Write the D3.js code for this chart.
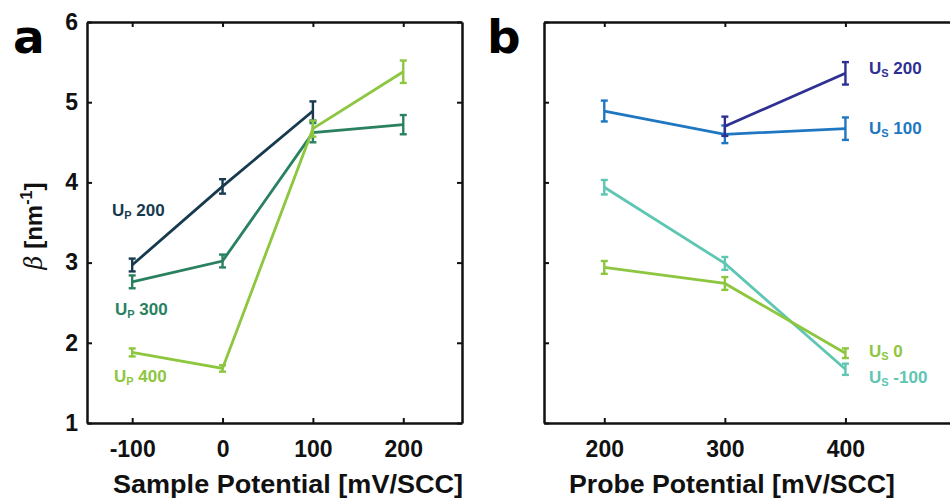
<!DOCTYPE html>
<html>
<head>
<meta charset="utf-8">
<script src="https://cdn.jsdelivr.net/npm/d3@7"></script>
<style>
  body { margin: 0; background: #fff; }
  svg { font-family: "Liberation Sans", Arial, sans-serif; font-weight: bold; }
</style>
</head>
<body>
<div id="chart"></div>
<script>
// panel a: beta vs sample potential, one line per probe potential
const sampleX = [-100, 0, 100, 200];
const up200 = [2.97, 3.95, 4.89];
const up200Err = [0.08, 0.09, 0.12];
const up300 = [2.76, 3.02, 4.62, 4.72];
const up300Err = [0.08, 0.08, 0.12, 0.12];
const up400 = [1.88, 1.68, 4.67, 5.38];
const up400Err = [0.05, 0.04, 0.1, 0.14];

// panel b: beta vs probe potential, one line per sample potential
const probeX = [200, 300, 400];
const us200X = [300, 400];
const us200 = [4.70, 5.36];
const us200Err = [0.12, 0.14];
const us100 = [4.89, 4.60, 4.67];
const us100Err = [0.13, 0.11, 0.14];
const usm100 = [3.94, 2.99, 1.67];
const usm100Err = [0.09, 0.08, 0.07];
const us0 = [2.94, 2.74, 1.87];
const us0Err = [0.08, 0.08, 0.06];

const yTicks = [1, 2, 3, 4, 5, 6];

const W = 950, H = 500;
const svg = d3.select("#chart").append("svg")
    .attr("width", W).attr("height", H);

const y = d3.scaleLinear().domain([1, 6]).range([423, 22]);
const xa = d3.scaleLinear().domain([-150, 265]).range([87, 462]);
const xb = d3.scaleLinear().domain([150, 500]).range([544, 966]);

function mk(xs, ys, es) {
  return xs.map((v, i) => ({ x: v, y: ys[i], e: es[i] }));
}

function frame(g, x, ticks, showY, showRight) {
  const [x0, x1] = x.range();
  const bottom = d3.axisBottom(x).tickValues(ticks)
      .tickSizeInner(-5).tickSizeOuter(0).tickPadding(18).tickFormat(String);
  g.append("g").attr("transform", "translate(0,423)").call(bottom);
  const top = d3.axisTop(x).tickValues(ticks)
      .tickSizeInner(-5).tickSizeOuter(0).tickFormat("");
  g.append("g").attr("transform", "translate(0,22)").call(top);
  const left = d3.axisLeft(y).tickValues(yTicks)
      .tickSizeInner(-5).tickSizeOuter(0).tickPadding(9)
      .tickFormat(showY ? String : "");
  g.append("g").attr("transform", "translate(" + x0 + ",0)").call(left);
  if (showRight) {
    const right = d3.axisRight(y).tickValues(yTicks)
        .tickSizeInner(-5).tickSizeOuter(0).tickFormat("");
    g.append("g").attr("transform", "translate(" + x1 + ",0)").call(right);
  }
  g.selectAll(".domain").attr("stroke", "#111").attr("stroke-width", 2.5);
  g.selectAll(".tick line").attr("stroke", "#111").attr("stroke-width", 2);
  g.selectAll(".tick text").attr("font-size", 23).attr("font-weight", "bold")
      .attr("font-family", "Liberation Sans, Arial, sans-serif").attr("fill", "#111");
}

function series(g, x, pts, color) {
  const line = d3.line().x(d => x(d.x)).y(d => y(d.y));
  g.append("path").datum(pts)
      .attr("fill", "none").attr("stroke", color)
      .attr("stroke-width", 2.8).attr("d", line);
  const eb = g.append("g").attr("stroke", color).attr("stroke-width", 2.4);
  pts.forEach(d => {
    const cx = x(d.x), t = y(d.y + d.e), b = y(d.y - d.e);
    eb.append("line").attr("x1", cx).attr("x2", cx).attr("y1", t).attr("y2", b);
    eb.append("line").attr("x1", cx - 3.5).attr("x2", cx + 3.5).attr("y1", t).attr("y2", t);
    eb.append("line").attr("x1", cx - 3.5).attr("x2", cx + 3.5).attr("y1", b).attr("y2", b);
  });
}

function label(g, px, py, sub, rest, color) {
  const t = g.append("text").attr("x", px).attr("y", py)
      .attr("fill", color).attr("font-size", 17).attr("font-weight", "bold");
  t.append("tspan").text("U");
  t.append("tspan").attr("font-size", 11).attr("dy", 3).text(sub);
  t.append("tspan").attr("dy", -3).text(" " + rest);
}

const cNavy = "#173a4f", cTeal = "#2a8160", cLime = "#8dc63f";
const cIndigo = "#2e3192", cBlue = "#1f77c2", cAqua = "#5ec6b2";

// panel a
const ga = svg.append("g");
frame(ga, xa, sampleX, true, true);
series(ga, xa, mk(sampleX.slice(0, 3), up200, up200Err), cNavy);
series(ga, xa, mk(sampleX, up300, up300Err), cTeal);
series(ga, xa, mk(sampleX, up400, up400Err), cLime);
label(ga, 112, 216, "P", "200", cNavy);
label(ga, 115, 315, "P", "300", cTeal);
label(ga, 114, 382, "P", "400", cLime);

// panel b
const gb = svg.append("g");
frame(gb, xb, probeX, false, false);
series(gb, xb, mk(probeX, us100, us100Err), cBlue);
series(gb, xb, mk(us200X, us200, us200Err), cIndigo);
series(gb, xb, mk(probeX, usm100, usm100Err), cAqua);
series(gb, xb, mk(probeX, us0, us0Err), cLime);
label(gb, 869, 74, "S", "200", cIndigo);
label(gb, 869, 134, "S", "100", cBlue);
label(gb, 869, 357, "S", "0", cLime);
label(gb, 869, 383, "S", "-100", cAqua);

// panel letters
svg.append("text").attr("x", 13).attr("y", 53).attr("font-size", 47)
    .attr("font-family", "DejaVu Sans, sans-serif").attr("font-weight", "bold").text("a");
svg.append("text").attr("x", 487).attr("y", 53).attr("font-size", 47)
    .attr("font-family", "DejaVu Sans, sans-serif").attr("font-weight", "bold").text("b");

// axis titles
svg.append("text").attr("x", 113).attr("y", 493)
    .attr("font-size", 25).attr("fill", "#111")
    .attr("textLength", 350).attr("lengthAdjust", "spacingAndGlyphs")
    .text("Sample Potential [mV/SCC]");
svg.append("text").attr("x", 569).attr("y", 493)
    .attr("font-size", 25).attr("fill", "#111")
    .attr("textLength", 326).attr("lengthAdjust", "spacingAndGlyphs")
    .text("Probe Potential [mV/SCC]");

const yl = svg.append("text")
    .attr("transform", "translate(42,226) rotate(-90)")
    .attr("text-anchor", "middle").attr("font-size", 24).attr("fill", "#111");
yl.append("tspan").attr("font-family", "DejaVu Serif, serif").attr("font-style", "italic")
    .attr("font-weight", "normal").text("β");
yl.append("tspan").text(" [nm");
yl.append("tspan").attr("font-size", 16).attr("dy", -10).text("-1");
yl.append("tspan").attr("dy", 10).text("]");
</script>
</body>
</html>
